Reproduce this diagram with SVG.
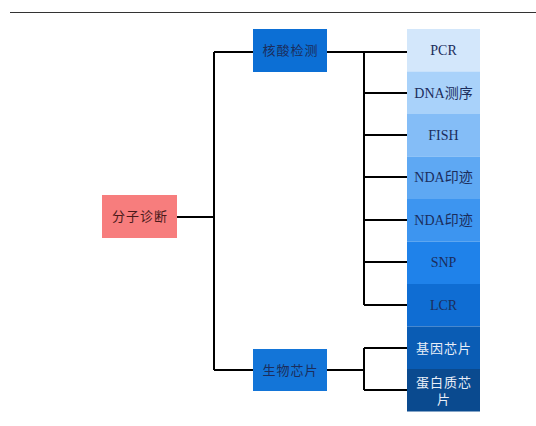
<svg xmlns="http://www.w3.org/2000/svg" width="536" height="426" viewBox="0 0 536 426">
<style>
.t{font-family:"Liberation Serif","Noto Sans CJK SC",serif;font-size:13px;text-anchor:middle;dominant-baseline:central;fill:#1b2d5c}
.s{letter-spacing:1px}
.l{font-size:14px}
.w{fill:#e8eef8}
.c{stroke:#000;stroke-width:2;fill:none}
</style>
<rect width="536" height="426" fill="#fff"/>
<line x1="10" y1="12.5" x2="536" y2="12.5" stroke="#333" stroke-width="1.2"/>
<g id="connectors" class="c">
<path d="M177 217H214M214 52V370M214 52H253M214 370H253"/>
<path d="M327 52H407M364 52V305M364 93H407M364 135H407M364 177H407M364 220H407M364 262H407M364 305H407"/>
<path d="M327 370H364M364 348V390M364 348H407M364 390H407"/>
</g>
<g id="root"><rect x="102" y="195" width="75" height="43" fill="#f77d7d"/><text class="t s" x="140" y="216.5" style="fill:#4a1a1a">分子诊断</text></g>
<g id="n1"><rect x="253" y="29" width="74" height="43" fill="#0c6fd5"/><text class="t s" x="290.5" y="50.5">核酸检测</text></g>
<g id="n2"><rect x="253" y="349" width="74" height="42" fill="#1375d8"/><text class="t s" x="290.5" y="370">生物芯片</text></g>
<g id="pcr"><rect x="407" y="29" width="73" height="42.5" fill="#d3e7fb"/><text class="t l" x="443.5" y="50">PCR</text></g>
<g id="dna"><rect x="407" y="71.5" width="73" height="42.5" fill="#a9d2fa"/><text class="t l" x="443.5" y="93">DNA测序</text></g>
<g id="fish"><rect x="407" y="114" width="73" height="42.5" fill="#84bdf7"/><text class="t l" x="443.5" y="135">FISH</text></g>
<g id="nda1"><rect x="407" y="156.5" width="73" height="42.5" fill="#5ea8f3"/><text class="t l" x="443.5" y="177.5">NDA印迹</text></g>
<g id="nda2"><rect x="407" y="199" width="73" height="42.5" fill="#3d95f0"/><text class="t l" x="443.5" y="220">NDA印迹</text></g>
<g id="snp"><rect x="407" y="241.5" width="73" height="42.5" fill="#1f82ea"/><text class="t l" x="443.5" y="262.5">SNP</text></g>
<g id="lcr"><rect x="407" y="284" width="73" height="42.5" fill="#0f6dd3"/><text class="t l" x="443.5" y="305">LCR</text></g>
<g id="gene"><rect x="407" y="326.5" width="73" height="42.5" fill="#0a5cb4"/><text class="t w s" x="444" y="348">基因芯片</text></g>
<g id="protein"><rect x="407" y="369" width="73" height="42.5" fill="#0a4a8f"/><text class="t w s" x="444" y="382">蛋白质芯</text><text class="t w" x="443.5" y="399">片</text></g>
</svg>
